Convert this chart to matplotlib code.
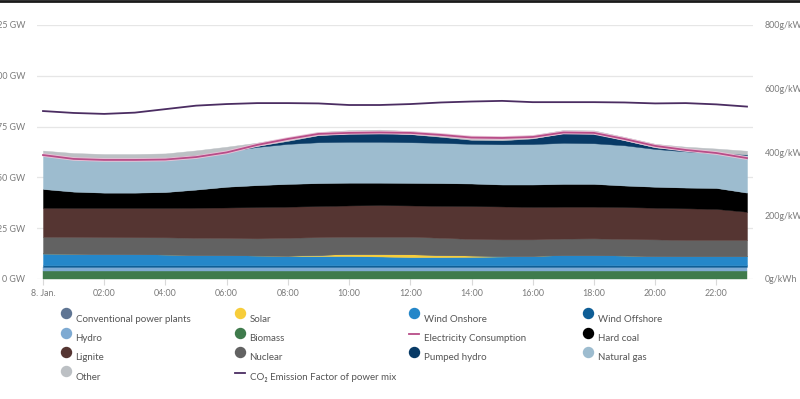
import matplotlib
matplotlib.use('Agg')
import matplotlib.pyplot as plt
from matplotlib.lines import Line2D
from matplotlib import font_manager

# ---------------- data ----------------
hours = list(range(24))
xtick_hours = [0, 2, 4, 6, 8, 10, 12, 14, 16, 18, 20, 22]
xtick_labels = ['8. Jan.', '02:00', '04:00', '06:00', '08:00', '10:00',
                '12:00', '14:00', '16:00', '18:00', '20:00', '22:00']
ytick_left = [0, 25, 50, 75, 100, 125]
ytick_right = [0, 200, 400, 600, 800]

conventional = [0.0, 0.0, 0.0, 0.0, 0.0, 0.0, 0.0, 0.0, 0.0, 0.0, 0.0, 0.0,
                0.0, 0.0, 0.0, 0.0, 0.0, 0.0, 0.0, 0.0, 0.0, 0.0, 0.0, 0.0]
biomass = [4.0, 4.0, 4.0, 4.0, 4.0, 4.0, 4.0, 4.0, 4.0, 4.0, 4.0, 4.0,
           4.0, 4.0, 4.0, 4.0, 4.0, 4.0, 4.0, 4.0, 4.0, 4.0, 4.0, 4.0]
hydro = [2.0, 2.0, 2.0, 2.0, 2.0, 2.0, 2.0, 2.0, 2.0, 2.0, 2.0, 2.0,
         2.0, 2.0, 2.0, 2.0, 2.0, 2.0, 2.0, 2.0, 2.0, 2.0, 2.0, 2.0]
wind_offshore = [0.8, 0.8, 0.8, 0.8, 0.8, 0.8, 0.8, 0.8, 0.8, 0.8, 0.8, 0.8,
                 0.8, 0.8, 0.8, 0.8, 0.9, 0.9, 0.9, 0.8, 0.8, 0.8, 0.8, 0.8]
wind_onshore = [5.8, 5.7, 5.6, 5.5, 5.3, 5.1, 5.0, 4.8, 4.6, 4.5, 4.5, 4.3,
                4.0, 4.0, 4.1, 4.3, 4.5, 4.9, 4.9, 4.8, 4.6, 4.5, 4.5, 4.5]
solar = [0.0, 0.0, 0.0, 0.0, 0.0, 0.0, 0.0, 0.0, 0.1, 0.6, 1.1, 1.3,
         1.4, 1.1, 0.7, 0.3, 0.05, 0.0, 0.0, 0.0, 0.0, 0.0, 0.0, 0.0]
nuclear = [8.2, 8.2, 8.2, 8.25, 8.4, 8.4, 8.4, 8.4, 8.8, 8.7, 8.4, 8.4,
           8.6, 8.4, 8.1, 8.1, 8.05, 8.1, 8.2, 8.1, 8.1, 7.9, 7.9, 7.9]
lignite = [14.3, 14.3, 14.4, 14.45, 14.5, 14.8, 15.0, 15.4, 15.3, 15.3, 15.4, 15.6,
           15.4, 15.7, 16.2, 16.2, 16.0, 15.7, 15.6, 15.7, 15.6, 15.6, 15.3, 13.9]
hard_coal = [9.2, 8.0, 7.5, 7.5, 7.8, 8.9, 10.2, 10.8, 11.2, 11.3, 11.2, 11.0,
             11.1, 11.2, 11.1, 10.8, 11.0, 11.2, 11.2, 10.6, 10.3, 10.2, 10.3, 9.4]
natural_gas = [16.7, 17.0, 17.0, 17.0, 17.0, 17.0, 17.4, 18.8, 19.7, 20.1, 20.1, 20.1,
               20.0, 19.8, 19.5, 19.8, 19.9, 20.2, 20.0, 19.8, 18.6, 17.8, 17.1, 18.5]
pumped_hydro = [0.0, 0.0, 0.0, 0.0, 0.0, 0.1, 0.3, 0.5, 1.5, 3.5, 4.2, 4.5,
                4.0, 3.0, 2.0, 2.0, 2.8, 4.8, 4.8, 2.5, 0.8, 0.5, 0.4, 0.3]
other = [2.2, 2.0, 2.0, 2.0, 2.0, 2.2, 2.0, 1.6, 1.6, 1.5, 1.5, 1.5,
         1.5, 1.5, 1.6, 1.6, 1.6, 1.5, 1.5, 1.6, 1.7, 1.8, 1.9, 1.8]
consumption = [61.0, 59.1, 58.6, 58.6, 58.8, 60.0, 62.3, 66.0, 68.9, 71.4, 71.9, 72.1,
               71.9, 70.9, 69.6, 69.4, 69.9, 72.1, 71.9, 68.9, 65.5, 63.5, 62.0, 59.5]
emission = [529, 523, 520, 524, 535, 546, 551, 554, 554, 553, 548, 548,
            551, 556, 559, 561, 557, 557, 557, 556, 553, 554, 550, 543]

# ---------------- style ----------------
C = {
    'Conventional power plants': '#5f7593',
    'Solar': '#f7cd3a',
    'Wind Onshore': '#2587c9',
    'Wind Offshore': '#0f5e96',
    'Hydro': '#7eaad2',
    'Biomass': '#3f7b4c',
    'Electricity Consumption': '#b84d88',
    'Hard coal': '#000000',
    'Lignite': '#553532',
    'Nuclear': '#626262',
    'Pumped hydro': '#083a66',
    'Natural gas': '#9dbccf',
    'Other': '#bcc0c4',
    'CO2': '#4b2d62',
}

FONT = ['Lato', 'DejaVu Sans']
plt.rcParams['font.family'] = FONT
installed = {f.name for f in font_manager.fontManager.ttflist}
if 'Liberation Sans Narrow' in installed:
    TICK_FONT = ['Liberation Sans Narrow', 'DejaVu Sans']
    TICK_SIZE = 7.2
else:
    TICK_FONT = FONT
    TICK_SIZE = 6.4
TXT = '#7a7a7a'

fig = plt.figure(figsize=(8.0, 3.99), dpi=100)
ax = fig.add_axes([37 / 800, 1 - 279 / 399, 716 / 800, 254 / 399])

stack = [
    (biomass, 'Biomass'),
    (hydro, 'Hydro'),
    (wind_offshore, 'Wind Offshore'),
    (wind_onshore, 'Wind Onshore'),
    (solar, 'Solar'),
    (conventional, 'Conventional power plants'),
    (nuclear, 'Nuclear'),
    (lignite, 'Lignite'),
    (hard_coal, 'Hard coal'),
    (natural_gas, 'Natural gas'),
    (pumped_hydro, 'Pumped hydro'),
    (other, 'Other'),
]
polys = ax.stackplot(hours, *[s[0] for s in stack],
                     colors=[C[s[1]] for s in stack], linewidth=0.3, zorder=2)
for p, s in zip(polys, stack):
    p.set_edgecolor(C[s[1]])

ax.plot(hours, consumption, color='#e9c3d7', lw=2.6, zorder=3, solid_capstyle='butt')
ax.plot(hours, consumption, color=C['Electricity Consumption'], lw=1.3, zorder=4)

ax.set_xlim(-0.196, 23.196)
ax.set_ylim(0, 125)
ax.set_yticks(ytick_left)
ax.set_yticklabels([f'{v} GW' for v in ytick_left])
ax.set_xticks(xtick_hours)
ax.set_xticklabels(xtick_labels)
ax.grid(axis='y', color='#e6e6e6', lw=0.9, zorder=0)
ax.set_axisbelow(True)
for sp in ax.spines.values():
    sp.set_visible(False)
ax.tick_params(axis='y', length=0, pad=8.6, labelsize=TICK_SIZE, labelcolor=TXT)
ax.tick_params(axis='x', length=4.5, width=0.8, color='#d9d9d9', pad=3,
               labelsize=TICK_SIZE, labelcolor=TXT)

ax2 = ax.twinx()
ax2.plot(hours, emission, color=C['CO2'], lw=1.3, zorder=5)
ax2.set_ylim(0, 800)
ax2.set_yticks(ytick_right)
ax2.set_yticklabels([f'{v}g/kWh' for v in ytick_right])
for sp in ax2.spines.values():
    sp.set_visible(False)
ax2.tick_params(axis='y', length=0, pad=8.6, labelsize=TICK_SIZE, labelcolor=TXT)

for lab in ax.get_xticklabels() + ax.get_yticklabels() + ax2.get_yticklabels():
    lab.set_family(TICK_FONT)

# top border line
fig.add_artist(Line2D([0, 1], [1 - 0.8 / 399, 1 - 0.8 / 399], transform=fig.transFigure,
                      color='#1a1a1a', lw=2.0))

# ---------------- legend (manual, 4 columns) ----------------
legend_items = [
    ('Conventional power plants', 'dot'), ('Solar', 'dot'),
    ('Wind Onshore', 'dot'), ('Wind Offshore', 'dot'),
    ('Hydro', 'dot'), ('Biomass', 'dot'),
    ('Electricity Consumption', 'line'), ('Hard coal', 'dot'),
    ('Lignite', 'dot'), ('Nuclear', 'dot'),
    ('Pumped hydro', 'dot'), ('Natural gas', 'dot'),
    ('Other', 'dot'), ('CO\u2082 Emission Factor of power mix', 'line'),
]
col_marker_x = [66, 240, 414, 588]
col_text_x = [75.5, 249.5, 423.5, 598.5]
row_marker_y = [313.3, 332.6, 351.8, 371.2]
row_text_y = [319.5, 338.8, 358.0, 377.5]
for i, (label, kind) in enumerate(legend_items):
    r, c = divmod(i, 4)
    key = 'CO2' if label.startswith('CO') else label
    mx = col_marker_x[c] / 800
    my = 1 - row_marker_y[r] / 399
    if kind == 'dot':
        fig.add_artist(Line2D([mx], [my], transform=fig.transFigure, marker='o',
                              markersize=7.2, color=C[key], linestyle='none'))
    else:
        ly = 1 - (row_marker_y[r] + 1.5) / 399
        fig.add_artist(Line2D([(col_marker_x[c] - 5) / 800, (col_marker_x[c] + 5) / 800],
                              [ly, ly], transform=fig.transFigure, color=C[key], lw=1.3))
    fig.text(col_text_x[c] / 800, 1 - row_text_y[r] / 399, label, fontsize=7,
             color='#555555', va='center', ha='left', family=FONT)

fig.savefig('out.png', dpi=100)
